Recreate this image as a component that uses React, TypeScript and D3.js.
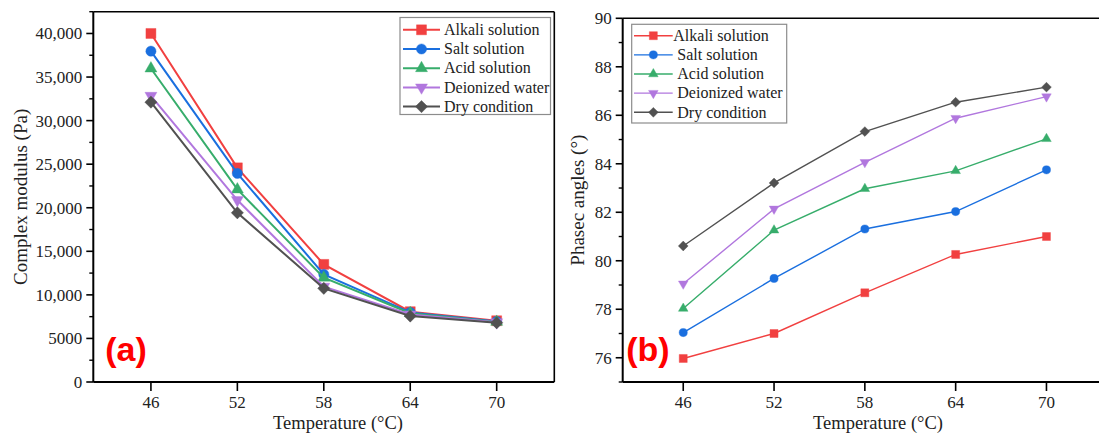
import React from 'react';
import * as d3 from 'd3';

const temperatures = [46, 52, 58, 64, 70];
const seriesNames = ['Alkali solution', 'Salt solution', 'Acid solution', 'Deionized water', 'Dry condition'];
const seriesColors = ['#F14040', '#1A6FDF', '#37AD6B', '#B177DE', '#515151'];
const seriesMarkers = ['square', 'circle', 'triangle', 'invTriangle', 'diamond'];

// Panel (a): complex modulus (Pa)
const modulusAlkali = [40000, 24580, 13500, 8070, 7030];
const modulusSalt = [37970, 23940, 12350, 7990, 6950];
const modulusAcid = [35980, 22100, 11970, 7900, 6900];
const modulusDeionized = [32850, 20880, 10940, 7750, 6850];
const modulusDry = [32120, 19420, 10750, 7570, 6800];

// Panel (b): phase angle (°)
const phaseAlkali = [75.97, 77.0, 78.68, 80.26, 81.0];
const phaseSalt = [77.04, 79.27, 81.31, 82.03, 83.75];
const phaseAcid = [78.03, 81.26, 82.97, 83.71, 85.03];
const phaseDeionized = [79.05, 82.14, 84.06, 85.88, 86.77];
const phaseDry = [80.61, 83.21, 85.33, 86.54, 87.16];

const modulusTicks = [0, 5000, 10000, 15000, 20000, 25000, 30000, 35000, 40000];
const modulusTickLabels = ['0', '5000', '10,000', '15,000', '20,000', '25,000', '30,000', '35,000', '40,000'];
const modulusMinorTicks = [2500, 7500, 12500, 17500, 22500, 27500, 32500, 37500, 42500];
const phaseTicks = [76, 78, 80, 82, 84, 86, 88, 90];
const phaseTickLabels = ['76', '78', '80', '82', '84', '86', '88', '90'];
const phaseMinorTicks = [75, 77, 79, 81, 83, 85, 87, 89];

const SERIF = '"Liberation Serif", "Times New Roman", serif';

function markerPath(kind: string, s: number): { d: string; rot: number } {
  if (kind === 'square') return { d: d3.symbol(d3.symbolSquare, s * s)() as string, rot: 0 };
  if (kind === 'circle') return { d: d3.symbol(d3.symbolCircle, Math.PI * (s / 2) * (s / 2) * 1.05)() as string, rot: 0 };
  if (kind === 'triangle') return { d: d3.symbol(d3.symbolTriangle, (Math.sqrt(3) / 4) * (s * 1.2) * (s * 1.2))() as string, rot: 0 };
  if (kind === 'invTriangle') return { d: d3.symbol(d3.symbolTriangle, (Math.sqrt(3) / 4) * (s * 1.2) * (s * 1.2))() as string, rot: 180 };
  return { d: d3.symbol(d3.symbolSquare, s * s * 0.75)() as string, rot: 45 };
}

function Marker({ kind, x, y, size, color }: any) {
  const m = markerPath(kind, size);
  return <path d={m.d} transform={`translate(${x},${y}) rotate(${m.rot})`} fill={color} stroke={color} strokeOpacity={0.5} strokeWidth={0.8} />;
}

function Panel(props: any) {
  const { xRange, yRange, yDomain, series, yTicks, yTickLabels, yMinor, yTitle, yTitleX, xTitleX, letter, letterX, lw, ms, legend, clipRight } = props;
  const x = d3.scaleLinear().domain([42, 74]).range(xRange);
  const y = d3.scaleLinear().domain(yDomain).range(yRange);
  const line = d3.line<number>().x((_, i) => x(temperatures[i])).y((v) => y(v));
  const [xl, xr] = xRange;
  const [yb, yt] = yRange;
  return (
    <g>
      {/* frame */}
      <line x1={xl} x2={clipRight ?? xr} y1={yt} y2={yt} stroke="#000" strokeWidth={1.6} />
      {clipRight == null && <line x1={xr} x2={xr} y1={yt} y2={yb} stroke="#000" strokeWidth={1.6} />}
      <line x1={xl} x2={clipRight ?? xr} y1={yb} y2={yb} stroke="#000" strokeWidth={2} />
      <line x1={xl} x2={xl} y1={yt} y2={yb} stroke="#000" strokeWidth={2} />
      {/* x ticks */}
      {temperatures.map((t) => (
        <g key={t}>
          <line x1={x(t)} x2={x(t)} y1={yb} y2={yb + 9} stroke="#000" strokeWidth={1.6} />
          <text x={x(t)} y={yb + 25.5} textAnchor="middle" fontFamily={SERIF} fontSize={17} fill="#222">{t}</text>
        </g>
      ))}
      {/* y ticks */}
      {yTicks.map((t: number, i: number) => (
        <g key={t}>
          <line x1={xl - 7} x2={xl} y1={y(t)} y2={y(t)} stroke="#000" strokeWidth={1.6} />
          <text x={xl - 11} y={y(t)} dy="0.35em" textAnchor="end" fontFamily={SERIF} fontSize={17} fill="#222">{yTickLabels[i]}</text>
        </g>
      ))}
      {yMinor.map((t: number) => (
        <line key={t} x1={xl - 4} x2={xl} y1={y(t)} y2={y(t)} stroke="#000" strokeWidth={1.4} />
      ))}
      {/* titles */}
      <text x={xTitleX} y={429} textAnchor="middle" fontFamily={SERIF} fontSize={18.5} fill="#222">Temperature (°C)</text>
      <text transform={`translate(${yTitleX},${(yt + yb) / 2}) rotate(-90)`} textAnchor="middle" fontFamily={SERIF} fontSize={19} fill="#222">{yTitle}</text>
      {/* series */}
      {series.map((vals: number[], si: number) => (
        <g key={si}>
          <path d={line(vals) as string} fill="none" stroke={seriesColors[si]} strokeWidth={lw} />
          {vals.map((v, i) => (
            <Marker key={i} kind={seriesMarkers[si]} x={x(temperatures[i])} y={y(v)} size={ms} color={seriesColors[si]} />
          ))}
        </g>
      ))}
      {/* letter */}
      <text x={letterX} y={361} textAnchor="middle" fontFamily='"Liberation Sans", Arial, sans-serif' fontWeight="bold" fontSize={34} fill="#FF0000">{letter}</text>
      {/* legend */}
      <rect x={legend.x0} y={legend.y0} width={legend.x1 - legend.x0} height={legend.y1 - legend.y0} fill="#fff" stroke="#8c8c8c" strokeWidth={1.2} />
      {seriesNames.map((n, i) => {
        const ry = legend.rowY + i * legend.rowH;
        return (
          <g key={n}>
            <line x1={legend.lx0} x2={legend.lx1} y1={ry} y2={ry} stroke={seriesColors[i]} strokeWidth={lw} />
            <Marker kind={seriesMarkers[i]} x={(legend.lx0 + legend.lx1) / 2} y={ry} size={ms} color={seriesColors[i]} />
            <text x={i === 0 ? legend.tx0 : legend.tx} y={ry} dy="0.33em" fontFamily={SERIF} fontSize={16} fill="#222">{n}</text>
          </g>
        );
      })}
    </g>
  );
}

export default function App() {
  const modulusSeries = [modulusAlkali, modulusSalt, modulusAcid, modulusDeionized, modulusDry];
  const phaseSeries = [phaseAlkali, phaseSalt, phaseAcid, phaseDeionized, phaseDry];
  return (
    <svg width={1099} height={435} style={{ position: 'absolute', left: 0, top: 0, background: '#fff' }}>
      <rect x={0} y={0} width={1099} height={435} fill="#fff" />
      <Panel
        xRange={[93.3, 554.3]} yRange={[382, 11.7]} yDomain={[0, 42500]}
        series={modulusSeries} yTicks={modulusTicks} yTickLabels={modulusTickLabels} yMinor={modulusMinorTicks}
        yTitle="Complex modulus (Pa)" yTitleX={27} xTitleX={338} letter="(a)" letterX={126}
        lw={2} ms={10}
        legend={{ x0: 400, x1: 550.5, y0: 17.5, y1: 114.5, rowY: 29.8, rowH: 19.2, lx0: 403, lx1: 440, tx0: 444, tx: 444 }}
      />
      <Panel
        xRange={[622.7, 1107]} yRange={[382, 18.3]} yDomain={[75, 90]}
        series={phaseSeries} yTicks={phaseTicks} yTickLabels={phaseTickLabels} yMinor={phaseMinorTicks}
        yTitle="Phasec angles (°)" yTitleX={584} xTitleX={878} letter="(b)" letterX={648}
        lw={1.4} ms={8} clipRight={1099}
        legend={{ x0: 631.7, x1: 786.7, y0: 24.3, y1: 123, rowY: 35.7, rowH: 19.15, lx0: 634, lx1: 672.7, tx0: 673.3, tx: 677.3 }}
      />
    </svg>
  );
}
